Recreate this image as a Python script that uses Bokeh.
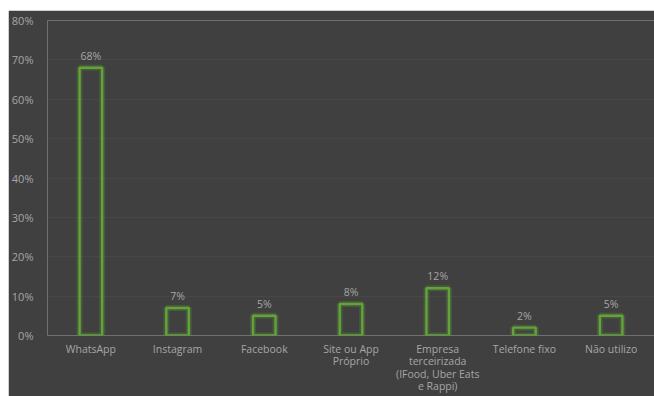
from bokeh.plotting import figure
from bokeh.models import ColumnDataSource, FixedTicker, Range1d
from bokeh.core.properties import value
from bokeh.embed import file_html
from bokeh.resources import INLINE

categories = ["WhatsApp", "Instagram", "Facebook", "Site ou App\nPróprio",
              "Empresa\nterceirizada\n(IFood, Uber Eats\ne Rappi)", "Telefone fixo", "Não utilizo"]
values = [68, 7, 5, 8, 12, 2, 5]
labels = ["68%", "7%", "5%", "8%", "12%", "2%", "5%"]
y_ticks = [0, 10, 20, 30, 40, 50, 60, 70, 80]

BG = "#404040"
GREEN = "#62a437"
TXT = "#a6a6a6"
FONT = "Open Sans"

src = ColumnDataSource(dict(cat=categories, val=values, lab=labels))

p = figure(x_range=categories, y_range=Range1d(0, 80), width=646, height=386,
           output_backend="svg", toolbar_location=None,
           background_fill_color=BG, border_fill_color=BG,
           min_border_left=39, min_border_right=0, min_border_top=10, min_border_bottom=50,
           margin=(10, 0, 0, 8), outline_line_color=None)

p.vbar(x="cat", top="val", width=0.26, source=src, fill_alpha=0,
       line_color=GREEN, line_width=6, line_alpha=0.25)
p.vbar(x="cat", top="val", width=0.26, source=src, fill_alpha=0,
       line_color=GREEN, line_width=2.4)

p.text(x="cat", y="val", text="lab", source=src, y_offset=-5,
       text_align="center", text_baseline="bottom", text_color=TXT,
       text_font=value(FONT), text_font_size="10.5px")

p.yaxis.ticker = FixedTicker(ticks=y_ticks)
p.yaxis.major_label_overrides = {t: f"{t}%" for t in y_ticks}
for ax in (p.xaxis, p.yaxis):
    ax.axis_line_color = None
    ax.major_tick_line_color = None
    ax.minor_tick_line_color = None
    ax.major_label_text_color = TXT
    ax.major_label_text_font = FONT
p.xaxis.major_label_text_font_size = "10.5px"
p.yaxis.major_label_text_font_size = "11px"
p.xaxis.major_label_text_line_height = 0.9
p.yaxis.major_label_standoff = 8
p.xaxis.major_label_standoff = 0

p.xgrid.grid_line_color = None
p.ygrid.grid_line_color = "#474747"
p.ygrid.ticker = FixedTicker(ticks=y_ticks)

open("out.html", "w").write(file_html(p, INLINE))
